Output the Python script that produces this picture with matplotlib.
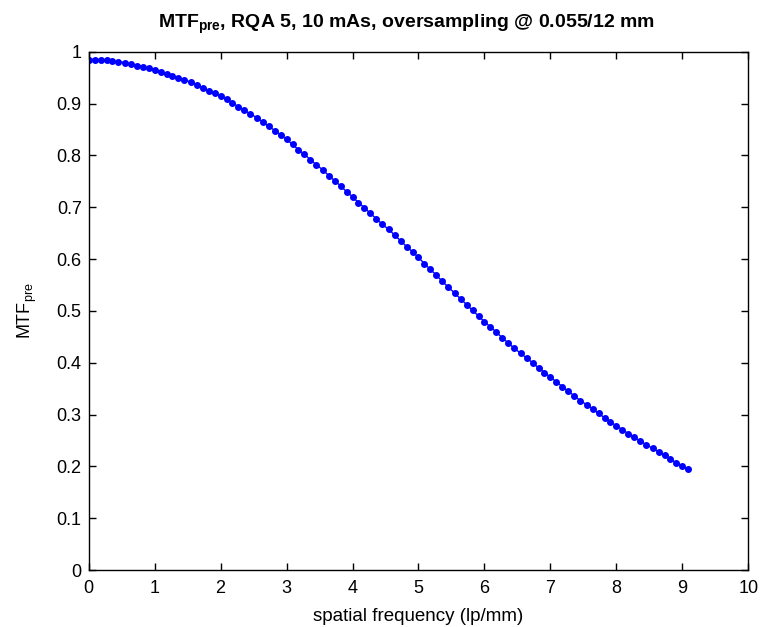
import matplotlib
matplotlib.use("Agg")
import matplotlib.pyplot as plt

plt.rcParams['font.family'] = ['Liberation Sans', 'DejaVu Sans']
plt.rcParams['mathtext.fontset'] = 'custom'
plt.rcParams['mathtext.rm'] = 'Liberation Sans'
plt.rcParams['mathtext.it'] = 'Liberation Sans'
plt.rcParams['mathtext.bf'] = 'Liberation Sans:bold'

# spatial frequency (lp/mm)
freq = [0.00, 0.09, 0.18, 0.27, 0.36, 0.45, 0.55, 0.64, 0.73, 0.82,
        0.91, 1.00, 1.09, 1.18, 1.27, 1.36, 1.45, 1.55, 1.64, 1.73,
        1.82, 1.91, 2.00, 2.09, 2.18, 2.27, 2.36, 2.45, 2.55, 2.64,
        2.73, 2.82, 2.91, 3.00, 3.09, 3.18, 3.27, 3.36, 3.45, 3.55,
        3.64, 3.73, 3.82, 3.91, 4.00, 4.09, 4.18, 4.27, 4.36, 4.45,
        4.55, 4.64, 4.73, 4.82, 4.91, 5.00, 5.09, 5.18, 5.27, 5.36,
        5.45, 5.55, 5.64, 5.73, 5.82, 5.91, 6.00, 6.09, 6.18, 6.27,
        6.36, 6.45, 6.55, 6.64, 6.73, 6.82, 6.91, 7.00, 7.09, 7.18,
        7.27, 7.36, 7.45, 7.55, 7.64, 7.73, 7.82, 7.91, 8.00, 8.09,
        8.18, 8.27, 8.36, 8.45, 8.55, 8.64, 8.73, 8.82, 8.91, 9.00,
        9.09]

mtf_pre = [0.985, 0.985, 0.985, 0.984, 0.983, 0.981, 0.979, 0.976, 0.973, 0.971,
           0.968, 0.965, 0.961, 0.957, 0.954, 0.950, 0.946, 0.941, 0.936, 0.930,
           0.925, 0.920, 0.915, 0.908, 0.901, 0.894, 0.887, 0.880, 0.873, 0.864,
           0.856, 0.848, 0.839, 0.831, 0.821, 0.811, 0.802, 0.792, 0.782, 0.772,
           0.761, 0.751, 0.741, 0.730, 0.720, 0.709, 0.699, 0.688, 0.678, 0.667,
           0.657, 0.646, 0.635, 0.624, 0.614, 0.603, 0.591, 0.580, 0.569, 0.557,
           0.546, 0.534, 0.523, 0.512, 0.501, 0.490, 0.479, 0.469, 0.459, 0.448,
           0.438, 0.428, 0.418, 0.409, 0.400, 0.390, 0.381, 0.372, 0.363, 0.354,
           0.345, 0.336, 0.327, 0.319, 0.311, 0.302, 0.294, 0.286, 0.278, 0.271,
           0.263, 0.256, 0.249, 0.242, 0.235, 0.228, 0.221, 0.214, 0.207, 0.200,
           0.194]

xticks = [0, 1, 2, 3, 4, 5, 6, 7, 8, 9, 10]
yticks = [0, 0.1, 0.2, 0.3, 0.4, 0.5, 0.6, 0.7, 0.8, 0.9, 1]
yticklabels = ['0', '0.1', '0.2', '0.3', '0.4', '0.5', '0.6', '0.7', '0.8', '0.9', '1']

fig = plt.figure(figsize=(7.6, 6.27), dpi=100)
ax = fig.add_axes([0.1167, 0.0909, 0.8679, 0.8266])

ax.plot(freq, mtf_pre, color=(0, 0, 1), linewidth=1.0, marker='o',
        markersize=4.0, markerfacecolor=(0, 0, 1), markeredgecolor=(0, 0, 1))

ax.set_xlim(0, 10)
ax.set_ylim(0, 1)
ax.set_xticks(xticks)
ax.set_xticklabels([str(t) for t in xticks])
ax.set_yticks(yticks)
ax.set_yticklabels(yticklabels)

ax.tick_params(direction='in', top=True, right=True, length=5, width=1,
               labelsize=13, colors='black')
ax.tick_params(axis='x', pad=7)
ax.tick_params(axis='y', pad=5)
for s in ax.spines.values():
    s.set_linewidth(1.0)
    s.set_color('black')

ax.set_xlabel('spatial frequency (lp/mm)', fontsize=13.5, labelpad=8)
ax.set_ylabel(r'MTF$_{\mathrm{pre}}$', fontsize=13, labelpad=13)
ax.set_title(r'MTF$_{\mathbf{pre}}$, RQA 5, 10 mAs, oversampling @ 0.055/12 mm',
             fontsize=14, fontweight='bold', pad=17, x=0.482)

fig.savefig('out.png', dpi=100, facecolor='white')
